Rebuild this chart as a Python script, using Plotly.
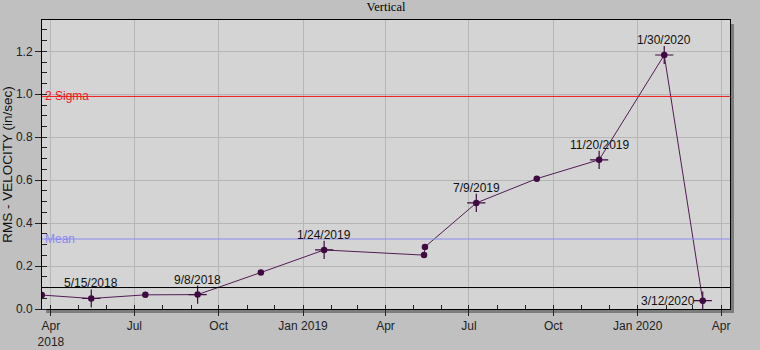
import plotly.graph_objects as go

# Measurement dates and RMS velocity readings (in/sec)
dates = [
    "2018-03-22", "2018-05-15", "2018-07-13", "2018-09-08", "2018-11-16",
    "2019-01-24", "2019-05-13", "2019-05-14", "2019-07-09", "2019-09-13",
    "2019-11-20", "2020-01-30", "2020-03-12",
]
values = [
    0.065, 0.049, 0.066, 0.067, 0.170,
    0.275, 0.251, 0.289, 0.494, 0.607,
    0.695, 1.183, 0.039,
]

# Readings that carry a date label
label_dates = ["2018-05-15", "2018-09-08", "2019-01-24", "2019-07-09",
               "2019-11-20", "2020-01-30", "2020-03-12"]
label_texts = ["5/15/2018", "9/8/2018", "1/24/2019", "7/9/2019",
               "11/20/2019", "1/30/2020", "3/12/2020"]

# Reference levels
two_sigma = 0.99
mean_level = 0.326
alert_level = 0.10

# Axis ticks
x_tickvals = ["2018-04-01", "2018-07-01", "2018-10-01", "2019-01-01",
              "2019-04-01", "2019-07-01", "2019-10-01", "2020-01-01",
              "2020-04-01"]
x_ticktext = ["Apr<br>2018", "Jul", "Oct", "Jan 2019", "Apr", "Jul",
              "Oct", "Jan 2020", "Apr"]

value_by_date = dict(zip(dates, values))
label_values = [value_by_date[d] for d in label_dates]

SANS = "Liberation Sans, Arial, sans-serif"
POINT = "#3e0a40"
LINE = "#521c55"
RED = "#ee1c1c"
BLUE = "#8a8af0"

fig = go.Figure()

fig.add_trace(go.Scatter(
    x=dates, y=values, mode="lines+markers",
    line=dict(color=LINE, width=1),
    marker=dict(symbol="circle", size=6.5, color=POINT),
    hoverinfo="x+y", showlegend=False,
))
fig.add_trace(go.Scatter(
    x=label_dates, y=label_values, mode="markers",
    marker=dict(symbol="cross-thin", size=13,
                line=dict(color=POINT, width=1.2)),
    hoverinfo="skip", showlegend=False,
))

# Drop shadow and plot-area panel
fig.add_shape(type="rect", xref="paper", yref="paper", layer="below",
              x0=4 / 688, x1=1 + 4 / 688, y0=-4 / 289, y1=1 - 4 / 289,
              fillcolor="#7c7c7c", line=dict(width=0))
fig.add_shape(type="rect", xref="paper", yref="paper", layer="below",
              x0=0, x1=1, y0=0, y1=1,
              fillcolor="#d4d4d4", line=dict(width=0))

# Reference lines
for level, colour in [(two_sigma, RED), (mean_level, BLUE),
                      (alert_level, "#000000")]:
    fig.add_shape(type="line", xref="paper", yref="y", x0=0, x1=1,
                  y0=level, y1=level, layer="above",
                  line=dict(color=colour, width=1))

annotations = []
for d, v, t in zip(label_dates, label_values, label_texts):
    if d == label_dates[-1]:
        annotations.append(dict(x=d, y=v, text=t, showarrow=False,
                                xanchor="right", yanchor="middle", xshift=-6,
                                font=dict(family=SANS, size=12, color="#111")))
    else:
        annotations.append(dict(x=d, y=v, text=t, showarrow=False,
                                xanchor="center", yanchor="bottom", yshift=6,
                                font=dict(family=SANS, size=12, color="#111")))

annotations.append(dict(x=0, xref="paper", y=two_sigma, text="2 Sigma",
                        showarrow=False, xanchor="left", yanchor="middle",
                        xshift=1, font=dict(family=SANS, size=12, color=RED)))
annotations.append(dict(x=0, xref="paper", y=mean_level, text="Mean",
                        showarrow=False, xanchor="left", yanchor="middle",
                        xshift=1, font=dict(family=SANS, size=12, color=BLUE)))

fig.update_layout(
    width=760, height=350,
    margin=dict(l=42, r=30, t=20, b=41, autoexpand=False),
    paper_bgcolor="#c0c0c0",
    plot_bgcolor="rgba(0,0,0,0)",
    title=dict(text="Vertical", x=0.5, xref="paper", y=1 - 7 / 350,
               yanchor="middle",
               font=dict(family="Liberation Serif, Times New Roman, serif",
                         size=12.5, color="#000")),
    annotations=annotations,
    font=dict(family=SANS, size=12, color="#222"),
)

fig.update_xaxes(
    type="date", range=["2018-03-22 06:00", "2020-04-10 18:00"],
    tickmode="array", tickvals=x_tickvals, ticktext=x_ticktext,
    ticks="outside", ticklen=6, tickcolor="#222",
    showgrid=True, gridcolor="#b6b6b6", gridwidth=1,
    showline=True, linecolor="#000", linewidth=1, mirror=True,
    zeroline=False, automargin=False,
    minor=dict(tickmode="linear", tick0="2018-01-01", dtick="M1",
               ticks="inside", ticklen=4, tickcolor="#222", showgrid=False),
    tickfont=dict(family=SANS, size=12, color="#222"),
)

fig.update_yaxes(
    range=[0, 1.346], tickmode="linear", tick0=0, dtick=0.2,
    tickformat=".1f", ticks="outside", ticklen=6, tickcolor="#222",
    showgrid=True, gridcolor="#b6b6b6", gridwidth=1,
    showline=True, linecolor="#000", linewidth=1, mirror=True,
    zeroline=False, automargin=False,
    minor=dict(tickmode="linear", tick0=0, dtick=0.05,
               ticks="inside", ticklen=5, tickcolor="#222", showgrid=False),
    title=dict(text="RMS - VELOCITY (in/sec)", standoff=2,
               font=dict(family=SANS, size=13.5, color="#111")),
    tickfont=dict(family=SANS, size=12, color="#222"),
)

fig.write_html("out.html")
